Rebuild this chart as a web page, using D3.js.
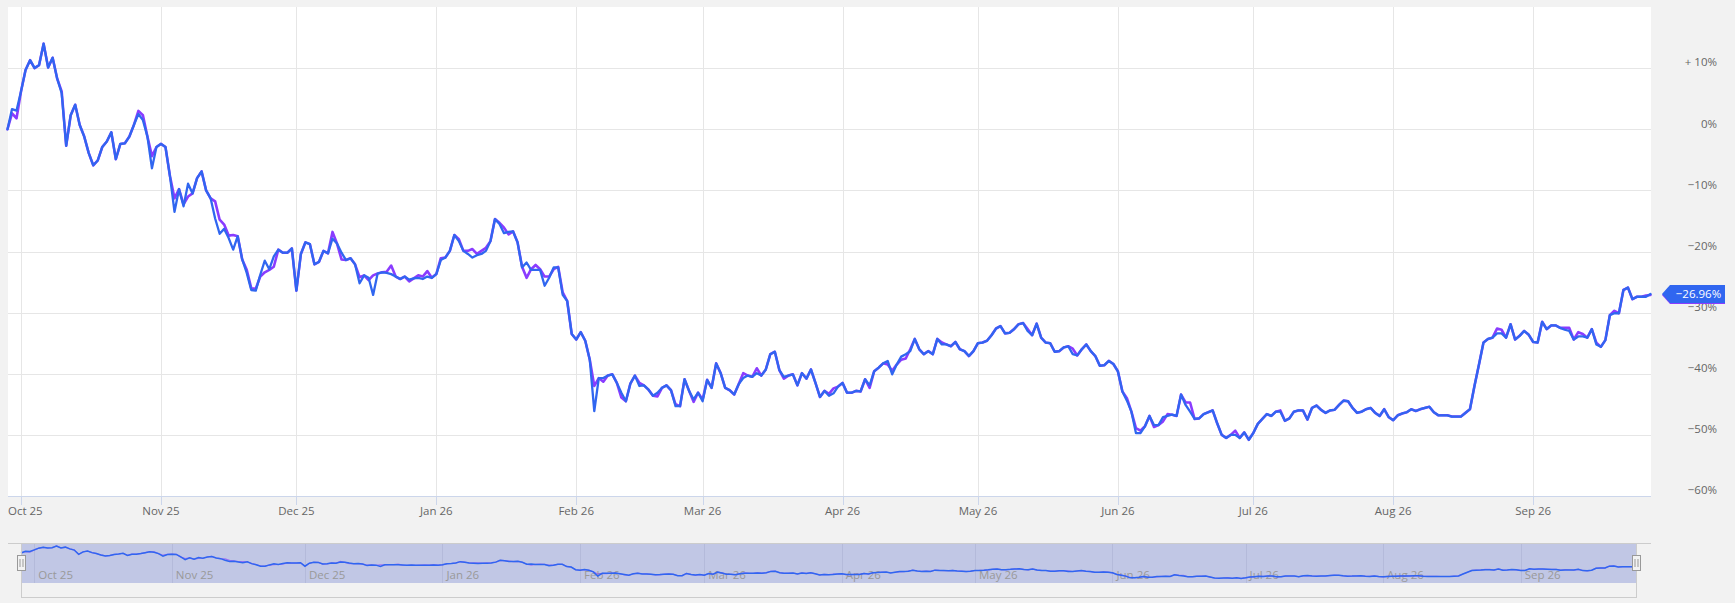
<!DOCTYPE html>
<html><head><meta charset="utf-8">
<script src="https://cdn.jsdelivr.net/npm/d3@7/dist/d3.min.js"></script>
<style>html,body{margin:0;padding:0;background:#f2f2f2;overflow:hidden}svg{display:block;font-family:"Open Sans",sans-serif}</style>
</head><body><svg id="c" width="1735" height="603"></svg>
<script>
// ---------------- DATA ----------------
const startDate = "2025-09-28"; // first daily point
const blueValues = [
0,3.3,3.05,6.2,9.7,11.3,10.0,10.5,14.0,10.1,
11.7,8.3,5.9,-2.7,2.3,4.0,0.7,-1.2,-3.9,-5.9,
-5.1,-2.9,-2.0,-0.5,-4.9,-2.4,-2.3,-1.2,0.7,2.5,
1.5,-1.2,-6.4,-2.9,-2.4,-2.9,-7.7,-13.5,-9.8,-12.6,
-8.9,-10.5,-8.0,-6.9,-10.0,-11.3,-14.6,-17.1,-16.3,-17.8,
-19.7,-17.5,-21.3,-23.5,-26.3,-26.4,-23.8,-21.5,-22.9,-20.8,
-19.7,-20.2,
-20.2,-19.5,-26.4,-20.4,-18.5,-18.8,-22.1,-21.7,
-19.9,-20.3,-17.9,-18.7,-20.2,-21.4,-21.1,-22.1,-25.2,-23.9,
-24.3,-27.1,-23.6,-23.4,-23.5,-23.7,-24.1,-24.5,-24.1,-24.6,
-24.4,-24.3,-24.5,-24.1,-24.3,-23.7,-21.4,-21.0,-19.9,-17.3,
-18.3,-19.9,-20.4,-21.0,-20.6,-20.4,-19.9,-18.3,-14.7,-15.5,
-17.0,-16.8,-16.7,-18.5,-22.6,-21.8,-23.0,-23.0,-23.0,-25.6,
-24.3,-22.6,-22.6,-27.1,-28.1,
-33.5,-34.4,-33.2,-34.6,-37.7,-46.1,-40.7,-40.7,-40.3,
-40.1,-41.5,-43.1,-44.5,-41.6,-40.3,-42.0,-41.9,-42.6,-43.6,
-43.1,-42.3,-41.9,-42.7,-45.3,-45.3,-40.9,-42.8,-44.2,-43.1,
-44.5,-41.0,-42.3,-38.3,-39.9,-42.3,-42.7,-43.4,-41.7,-40.7,
-40.3,-40.5,-39.9,-40.3,-39.3,-36.8,-36.4,-39.4,-40.5,-40.3,
-40.1,-41.9,-39.9,-40.8,-39.3,-41.5,-43.8,-42.8,-43.6,-43.2,
-42.1,
-41.5,-43.1,-43.1,-42.8,-42.9,-40.9,-41.9,-39.6,-39.0,
-38.3,-37.9,-40.1,-38.5,-37.2,-36.8,-36.3,-34.3,-36.0,-36.8,
-36.3,-36.8,-34.3,-35.2,-35.2,-35.5,-34.8,-36.0,-36.3,-37.1,
-36.3,-35.0,-34.9,-34.6,-33.7,-32.6,-32.2,-33.4,-33.3,-32.7,
-31.9,-31.7,-33.0,-33.7,-31.8,-34.1,-34.9,-35.0,-36.4,-36.3,
-35.7,-35.5,-36.8,-37.0,-36.0,-35.2,-36.3,-37.1,-38.7,-38.6,
-37.9,-38.4,
-39.6,-42.9,-44.4,-46.2,-49.7,-49.7,-48.6,-46.9,
-48.4,-48.4,-47.1,-46.9,-46.7,-46.9,-43.4,-45.1,-46.2,-47.4,
-47.3,-46.6,-46.3,-46.0,-48.1,-50.0,-50.5,-50.0,-50.0,-50.5,
-49.6,-50.8,-49.7,-48.2,-47.4,-46.6,-46.9,-46.2,-46.2,-47.7,
-47.3,-46.2,-46.0,-46.0,-47.5,-45.6,-45.2,-45.9,-46.4,-46.0,
-45.9,-45.1,-44.4,-44.5,-45.6,-46.4,-46.2,-45.8,-45.6,-46.4,
-46.9,-45.8,-47.1,
-47.6,-46.8,-46.5,-46.3,-45.8,-46.1,-45.8,
-45.6,-45.4,-46.3,-46.8,-46.8,-46.8,-47.0,-47.0,-47.0,-46.4,
-45.8,-42.0,-38.5,-34.9,-34.3,-34.1,-33.4,-33.4,-34.1,-31.9,
-34.4,-33.8,-33.0,-33.6,-34.8,-34.9,-31.5,-32.7,-32.1,-32.1,
-32.5,-32.8,-33.0,-34.4,-33.9,-33.9,-34.1,-32.7,-35.2,-35.6,
-34.5,-30.4,-30.1,-30.1,-26.3,-25.9,-27.8,-27.4,-27.4,-27.4,-26.96
];
const purpleValues = [
0,2.6,1.8,6.2,9.7,11.3,10.0,10.5,14.0,10.1,
11.7,8.3,6.2,-2.7,2.3,4.0,0.7,-1.2,-3.9,-5.9,
-5.1,-2.9,-2.0,-0.5,-4.9,-2.4,-2.3,-1.2,0.7,3.0,
2.3,-1.2,-4.4,-2.9,-2.4,-2.9,-7.7,-11.3,-9.8,-12.3,
-11.0,-10.5,-8.0,-6.9,-10.0,-11.3,-11.8,-14.8,-15.6,-17.4,
-17.3,-17.5,-21.3,-23.0,-26.0,-26.1,-24.1,-23.4,-23.0,-22.5,
-19.7,-20.2,
-20.2,-19.5,-26.4,-20.4,-18.5,-18.8,-22.1,-21.7,
-19.9,-20.3,-16.8,-18.7,-21.3,-21.4,-21.1,-22.1,-24.2,-23.9,
-24.7,-23.9,-23.6,-23.4,-23.3,-22.3,-24.1,-24.5,-24.1,-24.9,
-24.4,-23.9,-24.1,-23.2,-24.3,-23.7,-21.1,-21.0,-19.9,-17.3,
-18.0,-19.9,-19.9,-19.6,-20.4,-19.9,-19.4,-18.3,-14.7,-15.3,
-16.1,-17.2,-16.7,-18.5,-22.5,-24.3,-22.9,-22.2,-22.9,-24.1,
-24.1,-22.9,-22.5,-26.7,-28.1,
-33.5,-34.4,-33.2,-34.6,-37.7,-42.0,-40.7,-41.3,-40.3,
-40.1,-41.5,-43.9,-44.5,-41.6,-40.3,-41.5,-41.9,-42.6,-43.6,
-43.7,-42.3,-41.9,-42.7,-45.0,-45.3,-40.9,-42.8,-44.6,-43.1,
-44.2,-41.0,-42.3,-38.3,-39.9,-42.3,-42.7,-43.4,-41.7,-39.9,
-40.3,-40.5,-39.1,-40.3,-39.3,-36.8,-36.4,-39.4,-40.8,-40.3,
-40.1,-41.9,-39.9,-40.8,-39.3,-41.5,-43.8,-42.8,-43.3,-42.4,
-42.1,
-41.5,-43.1,-43.1,-42.8,-42.9,-40.9,-42.3,-39.6,-39.0,
-38.3,-38.5,-39.5,-38.5,-37.7,-37.5,-36.0,-34.3,-36.0,-36.8,
-36.3,-36.8,-34.3,-34.9,-35.2,-35.5,-34.8,-36.0,-36.3,-37.1,
-36.3,-35.0,-34.9,-34.6,-33.7,-32.6,-32.2,-33.4,-33.3,-32.7,
-31.9,-31.7,-32.7,-33.7,-31.8,-34.1,-34.9,-35.0,-36.4,-36.3,
-35.7,-35.5,-35.9,-37.0,-36.0,-35.2,-36.3,-37.1,-38.7,-38.6,
-37.9,-38.4,
-39.6,-42.9,-44.0,-46.2,-48.9,-49.3,-48.6,-46.9,
-48.7,-48.4,-47.8,-46.6,-46.7,-46.9,-43.4,-44.7,-44.7,-47.4,
-47.3,-46.6,-46.3,-46.0,-48.1,-50.0,-50.5,-50.0,-49.3,-50.5,
-49.6,-50.8,-49.7,-48.2,-47.4,-46.6,-46.9,-46.2,-46.0,-47.7,
-47.3,-46.2,-46.0,-46.0,-47.5,-45.6,-45.2,-45.9,-46.4,-46.0,
-45.9,-45.1,-44.4,-44.5,-45.6,-46.4,-46.2,-45.8,-45.6,-46.4,
-46.9,-45.8,-47.1,
-47.6,-46.8,-46.5,-46.3,-45.8,-46.1,-45.8,
-45.6,-45.4,-46.3,-46.8,-46.8,-46.8,-47.0,-47.0,-47.0,-46.4,
-45.8,-42.0,-38.5,-34.9,-34.3,-34.1,-32.6,-32.8,-34.1,-31.9,
-34.4,-33.8,-33.0,-33.6,-34.8,-34.9,-31.5,-32.7,-32.1,-32.1,
-32.5,-32.5,-32.5,-34.4,-33.2,-33.5,-34.1,-32.7,-34.9,-35.6,
-34.5,-30.4,-29.7,-30.1,-26.3,-25.9,-27.8,-27.4,-27.4,-27.2,-27.12
];
const monthTicks = ["2025-10-01","2025-11-01","2025-12-01","2026-01-01","2026-02-01","2026-03-01",
                    "2026-04-01","2026-05-01","2026-06-01","2026-07-01","2026-08-01","2026-09-01"];
const monthLabels = ["Oct 25","Nov 25","Dec 25","Jan 26","Feb 26","Mar 26",
                     "Apr 26","May 26","Jun 26","Jul 26","Aug 26","Sep 26"];
const yTicks = [10,0,-10,-20,-30,-40,-50,-60];
const yLabels = ["+ 10%","0%","\u221210%","\u221220%","\u221230%","\u221240%","\u221250%","\u221260%"];
const yDomain = [-60,20];

// ---------------- LAYOUT ----------------
const BLUE = "#3066f0", PURPLE = "#8a3cff";
const plot = {l:7.5, r:1650.5, t:7, b:496};
const nav = {l:21, r:1636, t:543, b:583, outB:597};
const svg = d3.select("#c");
const parse = d3.utcParse("%Y-%m-%d");
const t0 = parse(startDate);
const dates = blueValues.map((_, i) => d3.utcDay.offset(t0, i));
const tickDates = monthTicks.map(parse);

const x = d3.scaleUtc().domain([dates[0], dates[dates.length-1]]).range([plot.l, plot.r]);
const y = d3.scaleLinear().domain(yDomain).range([plot.b, plot.t]);
const xn = d3.scaleUtc().domain(x.domain()).range([nav.l, nav.r]);
const yn = d3.scaleLinear().domain(yDomain).range([nav.b, nav.t]);
const px = v => Math.round(v) + 0.5;

svg.append("rect").attr("width",1735).attr("height",603).attr("fill","#f2f2f2");
svg.append("rect").attr("x",8).attr("y",plot.t).attr("width",1651-8).attr("height",plot.b-plot.t).attr("fill","#ffffff");

// horizontal grid
const gy = svg.append("g");
yTicks.forEach(v => {
  gy.append("line").attr("x1",8).attr("x2",1651).attr("y1",px(y(v))).attr("y2",px(y(v)))
    .attr("stroke", v === -60 ? "#ccd6eb" : "#e6e6e6").attr("stroke-width",1);
});
// vertical grid + ticks
const gx = svg.append("g");
tickDates.forEach(d => {
  const xx = px(x(d));
  gx.append("line").attr("x1",xx).attr("x2",xx).attr("y1",plot.t).attr("y2",plot.b).attr("stroke","#e6e6e6");
  gx.append("line").attr("x1",xx).attr("x2",xx).attr("y1",plot.b).attr("y2",plot.b+9).attr("stroke","#ccd6eb");
});
// x labels
tickDates.forEach((d, i) => {
  const t = gx.append("text").attr("x", x(d)).attr("y", 515).attr("text-anchor","middle")
    .attr("font-size","11.5px").attr("fill","#666").text(monthLabels[i]);
  const w = t.node().getComputedTextLength();
  if (x(d) - w/2 < 8) t.attr("text-anchor","start").attr("x", 8);
});
// y labels
yTicks.forEach((v, i) => {
  svg.append("text").attr("x",1717).attr("y", y(v) - 1.7).attr("text-anchor","end")
    .attr("font-size","11.5px").attr("fill","#666").text(yLabels[i]);
});

// series
svg.append("clipPath").attr("id","pc").append("rect").attr("x",plot.l-2).attr("y",plot.t).attr("width",plot.r-plot.l+4).attr("height",plot.b-plot.t);
const line = d3.line().x((d, i) => x(dates[i])).y(d => y(d)).curve(d3.curveLinear);
const gs = svg.append("g").attr("clip-path","url(#pc)");
gs.append("path").datum(purpleValues).attr("d", line).attr("fill","none").attr("stroke",PURPLE)
  .attr("stroke-width",2.6).attr("stroke-linejoin","round").attr("stroke-linecap","round");
gs.append("path").datum(blueValues).attr("d", line).attr("fill","none").attr("stroke",BLUE)
  .attr("stroke-width",2.3).attr("stroke-linejoin","round").attr("stroke-linecap","round");

// last value labels
function lastLabel(val, color) {
  const cy = y(val);
  const g = svg.append("g");
  const tip = 1662, bl = 1670, br = 1725, hh = 9;
  g.append("path").attr("d", `M${tip},${cy} L${bl},${cy-hh} L${br},${cy-hh} L${br},${cy+hh} L${bl},${cy+hh} Z`).attr("fill", color);
  g.append("text").attr("x", (bl+br)/2 + 1).attr("y", cy + 4).attr("text-anchor","middle")
    .attr("font-size","11.5px").attr("fill","#fff").text(d3.format(".2f")(val).replace("-","\u2212") + "%");
}
lastLabel(purpleValues[purpleValues.length-1], PURPLE);
lastLabel(blueValues[blueValues.length-1], BLUE);

// ---------------- NAVIGATOR ----------------
const gn = svg.append("g");
gn.append("rect").attr("x",nav.l).attr("y",nav.t).attr("width",nav.r-nav.l).attr("height",nav.b-nav.t).attr("fill","rgb(193,199,229)");
tickDates.forEach((d, i) => {
  const xx = px(xn(d));
  gn.append("line").attr("x1",xx).attr("x2",xx).attr("y1",nav.t).attr("y2",nav.b).attr("stroke","rgba(120,130,170,0.18)");
  gn.append("text").attr("x", xn(d)+4).attr("y", 579).attr("font-size","11.5px").attr("fill","#999").text(monthLabels[i]);
});
const nline = d3.line().x((d, i) => xn(dates[i])).y(d => yn(d));
gn.append("path").datum(purpleValues).attr("d", nline).attr("fill","none").attr("stroke",PURPLE).attr("stroke-width",1.2).attr("opacity",0.6);
gn.append("path").datum(blueValues).attr("d", nline).attr("fill","none").attr("stroke",BLUE).attr("stroke-width",1.5);
// outline
const oc = "#cccccc";
gn.append("line").attr("x1",8).attr("x2",1651).attr("y1",nav.t+0.5).attr("y2",nav.t+0.5).attr("stroke",oc);
gn.append("line").attr("x1",nav.l+0.5).attr("x2",nav.l+0.5).attr("y1",nav.t).attr("y2",nav.outB).attr("stroke",oc);
gn.append("line").attr("x1",nav.r+0.5).attr("x2",nav.r+0.5).attr("y1",nav.t).attr("y2",nav.outB).attr("stroke",oc);
gn.append("line").attr("x1",nav.l).attr("x2",nav.r+1).attr("y1",nav.outB+0.5).attr("y2",nav.outB+0.5).attr("stroke",oc);
// handles
[nav.l, nav.r].forEach(hx => {
  const cx = Math.round(hx) + 0.5;
  gn.append("rect").attr("x", cx-4).attr("y", 555.5).attr("width", 8).attr("height", 15)
    .attr("fill","#f2f2f2").attr("stroke","#999").attr("stroke-width",1);
  gn.append("line").attr("x1",cx-1.5).attr("x2",cx-1.5).attr("y1",559).attr("y2",567).attr("stroke","#999");
  gn.append("line").attr("x1",cx+1.5).attr("x2",cx+1.5).attr("y1",559).attr("y2",567).attr("stroke","#999");
});
</script></body></html>
